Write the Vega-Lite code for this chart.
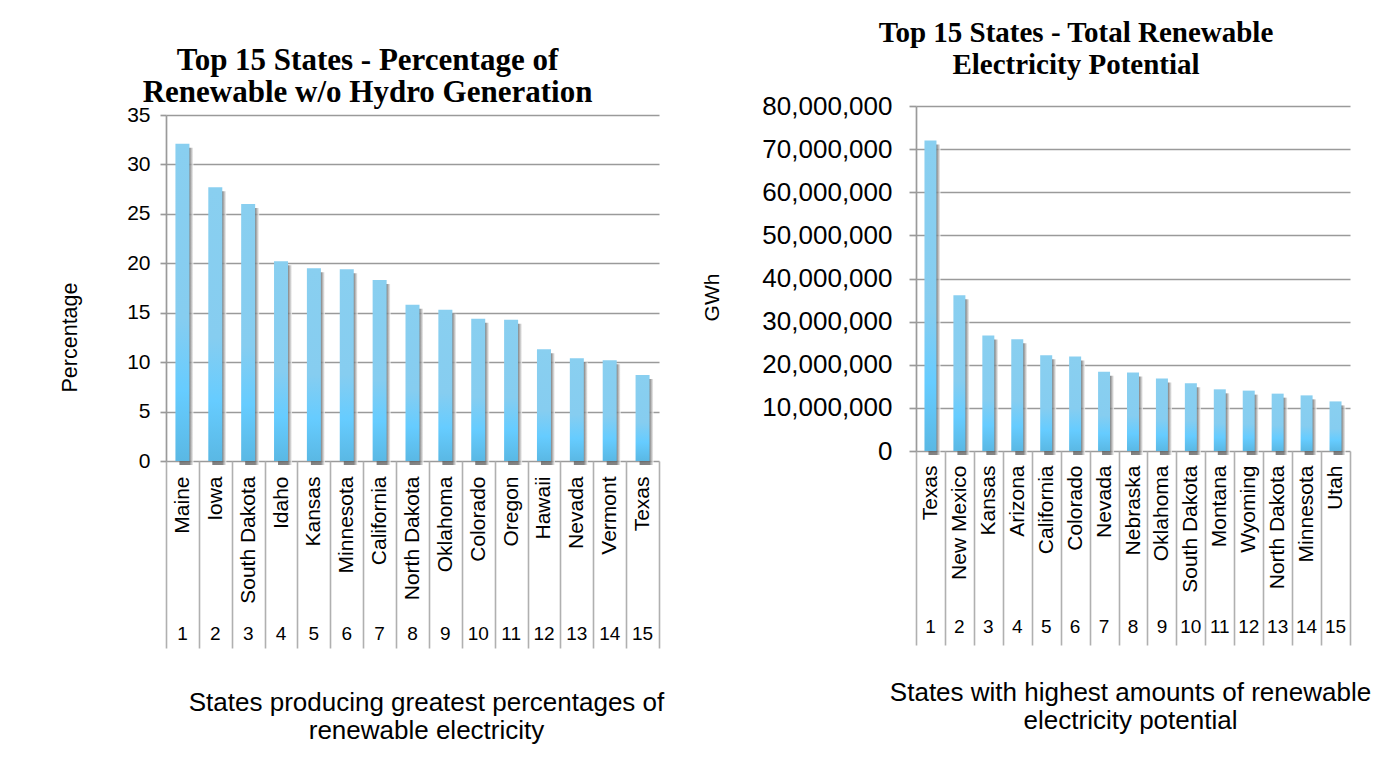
{
  "$schema": "https://vega.github.io/schema/vega-lite/v6.json",
  "padding": {"left": 59, "top": 18, "right": 8, "bottom": 8},
  "background": "white",
  "bounds": "flush",
  "spacing": 750,
  "config": {
    "view": {"stroke": null},
    "font": "Liberation Sans",
    "axis": {
      "labelFont": "Liberation Sans",
      "labelColor": "#000000",
      "titleFont": "Liberation Sans",
      "titleColor": "#000000",
      "titleFontWeight": "normal",
      "gridColor": "#9a9a9a",
      "gridWidth": 1.7,
      "domainColor": "#9a9a9a",
      "domainWidth": 1.7,
      "tickColor": "#9a9a9a",
      "tickWidth": 1.7,
      "zindex": 0
    },
    "title": {"font": "Liberation Serif", "fontWeight": "bold", "color": "#000000"}
  },
  "datasets": {
    "percent": [
      {"rank": 1, "state": "Maine", "pct": 32.1},
      {"rank": 2, "state": "Iowa", "pct": 27.7},
      {"rank": 3, "state": "South Dakota", "pct": 26.0},
      {"rank": 4, "state": "Idaho", "pct": 20.2},
      {"rank": 5, "state": "Kansas", "pct": 19.5},
      {"rank": 6, "state": "Minnesota", "pct": 19.4},
      {"rank": 7, "state": "California", "pct": 18.3},
      {"rank": 8, "state": "North Dakota", "pct": 15.8},
      {"rank": 9, "state": "Oklahoma", "pct": 15.3},
      {"rank": 10, "state": "Colorado", "pct": 14.4},
      {"rank": 11, "state": "Oregon", "pct": 14.3},
      {"rank": 12, "state": "Hawaii", "pct": 11.3},
      {"rank": 13, "state": "Nevada", "pct": 10.4},
      {"rank": 14, "state": "Vermont", "pct": 10.2},
      {"rank": 15, "state": "Texas", "pct": 8.7}
    ],
    "potential": [
      {"rank": 1, "state": "Texas", "gwh": 72000000},
      {"rank": 2, "state": "New Mexico", "gwh": 36100000},
      {"rank": 3, "state": "Kansas", "gwh": 26800000},
      {"rank": 4, "state": "Arizona", "gwh": 25900000},
      {"rank": 5, "state": "California", "gwh": 22200000},
      {"rank": 6, "state": "Colorado", "gwh": 21900000},
      {"rank": 7, "state": "Nevada", "gwh": 18400000},
      {"rank": 8, "state": "Nebraska", "gwh": 18200000},
      {"rank": 9, "state": "Oklahoma", "gwh": 16800000},
      {"rank": 10, "state": "South Dakota", "gwh": 15700000},
      {"rank": 11, "state": "Montana", "gwh": 14300000},
      {"rank": 12, "state": "Wyoming", "gwh": 14000000},
      {"rank": 13, "state": "North Dakota", "gwh": 13300000},
      {"rank": 14, "state": "Minnesota", "gwh": 12900000},
      {"rank": 15, "state": "Utah", "gwh": 11500000}
    ]
  },
  "hconcat": [
    {
      "bounds": "flush",
      "spacing": 0,
      "vconcat": [
        {
          "width": 493,
          "height": 8.5,
          "data": {"values": [{}]},
          "mark": {"type": "rule", "opacity": 0},
          "encoding": {}
        },
        {
          "width": 493,
          "height": 346,
          "data": {"name": "percent"},
          "title": {
            "text": ["Top 15 States - Percentage of", "Renewable w/o Hydro Generation"],
            "fontSize": 31,
            "lineHeight": 32,
            "anchor": "middle",
            "frame": "group",
            "dx": -45,
            "offset": -5
          },
          "layer": [
            {
              "mark": {
                "type": "bar",
                "size": 14,
                "xOffset": 4,
                "yOffset": 4,
                "opacity": 0.8,
                "fill": {
                  "gradient": "linear", "x1": 0, "y1": 0, "x2": 1, "y2": 0,
                  "stops": [
                    {"offset": 0, "color": "#606060"},
                    {"offset": 0.72, "color": "#666666"},
                    {"offset": 1, "color": "#ffffff"}
                  ]
                }
              },
              "encoding": {
                "x": {
                  "field": "rank", "type": "ordinal",
                  "scale": {"paddingInner": 0, "paddingOuter": 0},
                  "axis": {
                    "orient": "bottom", "title": null, "ticks": false, "domain": false, "grid": false,
                    "labelAngle": 0, "labelAlign": "center", "labelBaseline": "middle",
                    "labelPadding": 172, "labelFontSize": 19
                  }
                },
                "y": {
                  "field": "pct", "type": "quantitative",
                  "scale": {"domain": [0, 35], "nice": false},
                  "axis": {
                    "title": "Percentage", "values": [0, 5, 10, 15, 20, 25, 30, 35],
                    "grid": true, "tickSize": 6, "labelPadding": 10, "labelFontSize": 21,
                    "titleFontSize": 21.5, "titleX": -96, "titleY": 222, "titleAngle": 270,
                    "titleAlign": "center", "titleBaseline": "middle"
                  }
                }
              }
            },
            {
              "mark": {
                "type": "bar",
                "size": 14,
                "fill": {
                  "gradient": "linear", "x1": 0, "y1": 0, "x2": 0, "y2": 1,
                  "stops": [
                    {"offset": 0, "color": "#89cff0"},
                    {"offset": 0.55, "color": "#86cdf0"},
                    {"offset": 0.78, "color": "#66ccff"},
                    {"offset": 1, "color": "#5ab8e4"}
                  ]
                }
              },
              "encoding": {
                "x": {
                  "field": "state", "type": "nominal", "sort": null,
                  "scale": {"paddingInner": 0, "paddingOuter": 0},
                  "axis": {
                    "orient": "bottom",
                    "title": ["States producing greatest percentages of", "renewable electricity"],
                    "tickBand": "extent", "tickSize": 187, "tickColor": "#b0b0b0", "tickWidth": 1.6,
                    "domain": false,
                    "labelAngle": 270, "labelAlign": "right", "labelBaseline": "middle",
                    "labelPadding": -172, "labelFontSize": 21, "labelOverlap": false,
                    "titleFontSize": 26, "titleLineHeight": 28, "titleBaseline": "top",
                    "titleY": 228, "titleX": 260
                  }
                },
                "y": {
                  "field": "pct", "type": "quantitative",
                  "axis": {
                    "title": "Percentage", "values": [0, 5, 10, 15, 20, 25, 30, 35],
                    "grid": true, "tickSize": 6, "labelPadding": 10, "labelFontSize": 21,
                    "titleFontSize": 21.5, "titleX": -96, "titleY": 222, "titleAngle": 270,
                    "titleAlign": "center", "titleBaseline": "middle"
                  }
                }
              }
            }
          ],
          "resolve": {"scale": {"x": "independent"}, "axis": {"x": "independent"}}
        }
      ]
    },
    {
      "width": 434,
      "height": 345,
      "data": {"name": "potential"},
      "title": {
        "text": ["Top 15 States - Total Renewable", "Electricity Potential"],
        "fontSize": 29,
        "lineHeight": 32,
        "anchor": "middle",
        "frame": "group",
        "dx": -57,
        "offset": 13.5
      },
      "layer": [
        {
          "mark": {
            "type": "bar",
            "size": 12,
            "xOffset": 4,
            "yOffset": 4,
            "opacity": 0.8,
            "fill": {
              "gradient": "linear", "x1": 0, "y1": 0, "x2": 1, "y2": 0,
              "stops": [
                {"offset": 0, "color": "#606060"},
                {"offset": 0.68, "color": "#666666"},
                {"offset": 1, "color": "#ffffff"}
              ]
            }
          },
          "encoding": {
            "x": {
              "field": "rank", "type": "ordinal",
              "scale": {"paddingInner": 0, "paddingOuter": 0},
              "axis": {
                "orient": "bottom", "title": null, "ticks": false, "domain": false, "grid": false,
                "labelAngle": 0, "labelAlign": "center", "labelBaseline": "middle",
                "labelPadding": 175, "labelFontSize": 19
              }
            },
            "y": {
              "field": "gwh", "type": "quantitative",
              "scale": {"domain": [0, 80000000], "nice": false},
              "axis": {
                "title": "GWh", "tickCount": 8, "format": ",d",
                "grid": true, "tickSize": 7, "labelPadding": 17, "labelFontSize": 26,
                "titleFontSize": 21, "titleX": -204, "titleY": 191, "titleAngle": 270,
                "titleAlign": "center", "titleBaseline": "middle"
              }
            }
          }
        },
        {
          "mark": {
            "type": "bar",
            "size": 12,
            "fill": {
              "gradient": "linear", "x1": 0, "y1": 0, "x2": 0, "y2": 1,
              "stops": [
                {"offset": 0, "color": "#89cff0"},
                {"offset": 0.55, "color": "#86cdf0"},
                {"offset": 0.78, "color": "#66ccff"},
                {"offset": 1, "color": "#5ab8e4"}
              ]
            }
          },
          "encoding": {
            "x": {
              "field": "state", "type": "nominal", "sort": null,
              "scale": {"paddingInner": 0, "paddingOuter": 0},
              "axis": {
                "orient": "bottom",
                "title": ["States with highest amounts of renewable", "electricity potential"],
                "tickBand": "extent", "tickSize": 194, "tickColor": "#b0b0b0", "tickWidth": 1.6,
                "domain": false,
                "labelAngle": 270, "labelAlign": "right", "labelBaseline": "middle",
                "labelPadding": -180, "labelFontSize": 21, "labelOverlap": false,
                "titleFontSize": 26, "titleLineHeight": 28, "titleBaseline": "top",
                "titleY": 228, "titleX": 214
              }
            },
            "y": {
              "field": "gwh", "type": "quantitative",
              "axis": {
                "title": "GWh", "tickCount": 8, "format": ",d",
                "grid": true, "tickSize": 7, "labelPadding": 17, "labelFontSize": 26,
                "titleFontSize": 21, "titleX": -204, "titleY": 191, "titleAngle": 270,
                "titleAlign": "center", "titleBaseline": "middle"
              }
            }
          }
        }
      ],
      "resolve": {"scale": {"x": "independent"}, "axis": {"x": "independent"}}
    }
  ]
}
